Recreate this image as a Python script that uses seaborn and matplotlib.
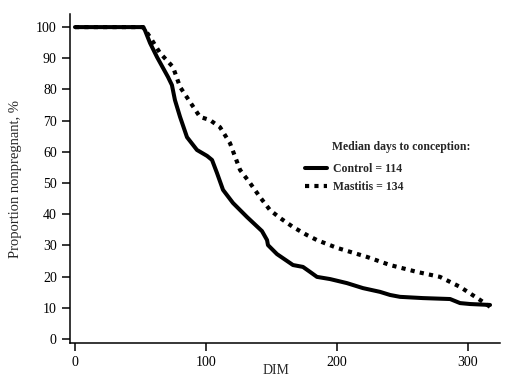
import numpy as np
import pandas as pd
import matplotlib
matplotlib.use("Agg")
import matplotlib.pyplot as plt
import seaborn as sns

# Data
control_dim = [0, 52, 53.4, 57.3, 62.6, 71, 74, 76.3, 80.2, 85.5, 93.1, 100.8, 104.6,
               108.4, 113, 120.6, 131.3, 142.7, 146.6, 147.3, 154.2, 166.4, 174, 179.4,
               184.7, 194.7, 207.6, 219.8, 232.8, 240.5, 248.1, 265.6, 286.3, 293.9,
               301.5, 316.8]
control_pct = [100, 100, 99, 94.9, 90.4, 84, 81.4, 76.6, 71.2, 64.7, 60.6, 58.7, 57.4,
               53.2, 47.8, 43.6, 39.1, 34.6, 31.7, 30.1, 27.2, 23.7, 23.1, 21.5,
               19.9, 19.2, 17.9, 16.3, 15.1, 14.1, 13.5, 13.1, 12.8, 11.5,
               11.2, 10.9]

mastitis_dim = [0, 52, 57.3, 64.9, 74.8, 80.2, 87.8, 95.4, 103, 110.7, 118.3, 126,
                133.6, 141.2, 148.9, 156.5, 166.4, 177.1, 184.7, 200, 222.9, 240.5,
                261, 278.6, 293.9, 309.2, 316.8]
mastitis_pct = [100, 100, 96.8, 91.7, 87.2, 80.8, 76, 71.2, 70.2, 67.9, 62.8, 54.2,
                50, 45.5, 41.3, 38.8, 35.9, 33.3, 31.7, 29.2, 26.3, 23.7,
                21.5, 19.9, 16.7, 12.5, 10.3]

x_ticks = [0, 100, 200, 300]
y_ticks = [0, 10, 20, 30, 40, 50, 60, 70, 80, 90, 100]
legend_title = "Median days to conception:"
control_label = "Control = 114"
mastitis_label = "Mastitis = 134"

sns.set_theme(style="ticks")
plt.rcParams['font.family'] = ['Liberation Serif', 'DejaVu Serif']

fig = plt.figure(figsize=(5.05, 3.80), dpi=100)
ax = fig.add_axes([70/505, 1-343/380, 430/505, 329/380])

df_c = pd.DataFrame({"DIM": control_dim, "pct": control_pct})
df_m = pd.DataFrame({"DIM": mastitis_dim, "pct": mastitis_pct})

sns.lineplot(data=df_m, x="DIM", y="pct", ax=ax, color="black", linewidth=3.0,
             linestyle=(0, (1, 1.25)), sort=False, estimator=None,
             label=mastitis_label)
sns.lineplot(data=df_c, x="DIM", y="pct", ax=ax, color="black", linewidth=2.9,
             sort=False, estimator=None, label=control_label)
for ln in ax.lines:
    ln.set_dash_capstyle("butt")
    ln.set_solid_capstyle("round")
    ln.set_solid_joinstyle("round")

ax.set_xlim(-3.8, 324.4)
ax.set_ylim(-1.3, 104.2)
ax.set_xticks(x_ticks)
ax.set_yticks(y_ticks)
ax.set_xticklabels([str(v) for v in x_ticks])
ax.set_yticklabels([str(v) for v in y_ticks])

for s in ["top", "right"]:
    ax.spines[s].set_visible(False)
for s in ["left", "bottom"]:
    ax.spines[s].set_linewidth(1.1)
    ax.spines[s].set_color("black")
ax.tick_params(axis="both", length=6, width=1.1, color="black", labelsize=10,
               labelcolor="black")
ax.tick_params(axis="x", pad=3)
ax.tick_params(axis="y", pad=3.5)

ax.set_xlabel("DIM", fontsize=10)
ax.xaxis.set_label_coords((276-70)/430, -27/329)
ax.xaxis.label.set_va("center")
ax.set_ylabel("Proportion nonpregnant, %", fontsize=10.5)
ax.yaxis.set_label_coords((16-70)/430, 0.5)
ax.yaxis.label.set_va("center")

handles, labels = ax.get_legend_handles_labels()
order = [labels.index(control_label), labels.index(mastitis_label)]
leg = ax.legend([handles[i] for i in order], [labels[i] for i in order],
                loc="upper left", bbox_to_anchor=((305-70)/430, 1-(163-14)/329),
                frameon=False, handlelength=1.85, handletextpad=0.5,
                labelspacing=0.5, borderpad=0, borderaxespad=0,
                prop={"weight": "bold", "size": 8.5})
fig.text(332/505, 1-147/380, legend_title, fontsize=8.5, fontweight="bold",
         ha="left", va="center")

fig.savefig("out.png", dpi=100)
